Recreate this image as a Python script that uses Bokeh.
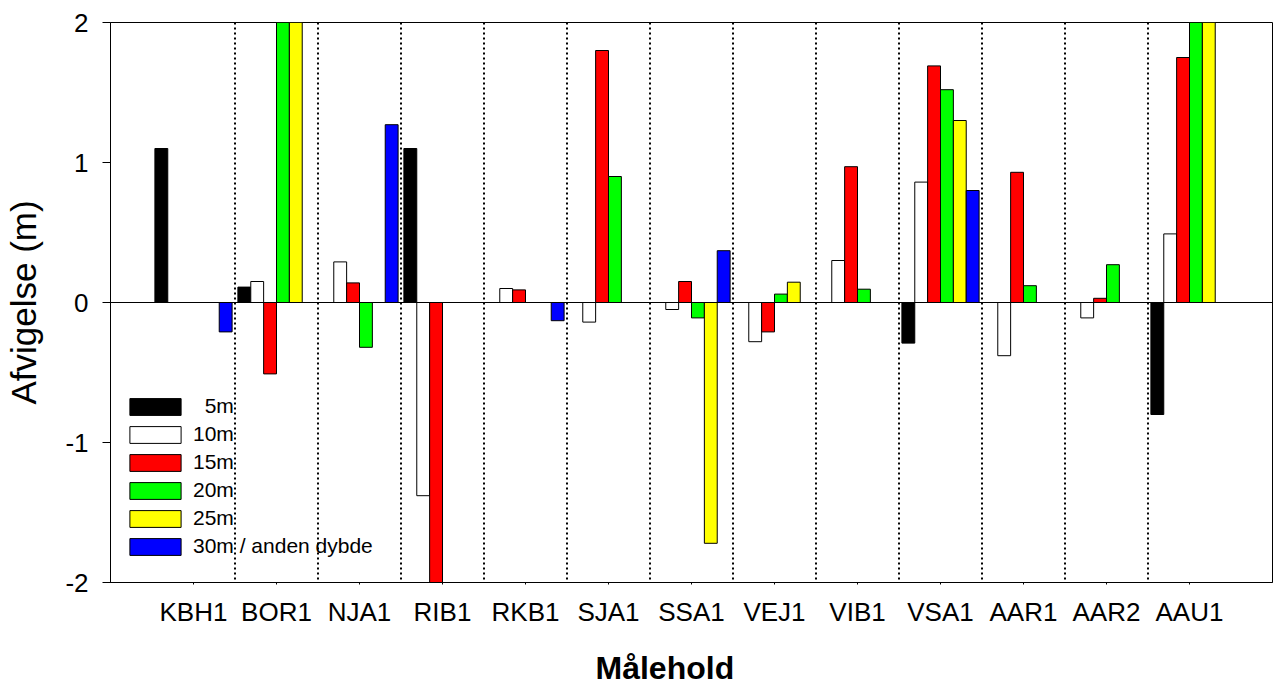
import math

from bokeh.embed import file_html
from bokeh.models import FixedTicker, Legend, LegendItem, LinearAxis, Range1d, Span, Title
from bokeh.plotting import figure
from bokeh.resources import INLINE

# Measuring stations (x categories)
stations = ["KBH1", "BOR1", "NJA1", "RIB1", "RKB1", "SJA1", "SSA1",
            "VEJ1", "VIB1", "VSA1", "AAR1", "AAR2", "AAU1"]

NA = float("nan")

# Deviation (m) per station at each depth; NaN = no measurement
dev_5m = [1.10, 0.11, NA, 1.10, NA, NA, NA, NA, NA, -0.29, NA, NA, -0.80]
dev_10m = [NA, 0.15, 0.29, -1.38, 0.10, -0.14, -0.05, -0.28, 0.30, 0.86, -0.38, -0.11, 0.49]
dev_15m = [NA, -0.51, 0.14, -2.00, 0.09, 1.80, 0.15, -0.21, 0.97, 1.69, 0.93, 0.03, 1.75]
dev_20m = [NA, 2.00, -0.32, NA, NA, 0.90, -0.11, 0.06, 0.095, 1.52, 0.12, 0.27, 2.00]
dev_25m = [NA, 2.00, NA, NA, NA, NA, -1.72, 0.145, NA, 1.30, NA, NA, 2.00]
dev_30m = [-0.21, NA, 1.27, NA, -0.13, NA, 0.37, NA, NA, 0.80, NA, NA, NA]

series_labels = ["\u20075m", "10m", "15m", "20m", "25m", "30m / anden dybde"]
series_values = [dev_5m, dev_10m, dev_15m, dev_20m, dev_25m, dev_30m]
series_colors = ["#000000", "#ffffff", "#ff0000", "#00ff00", "#ffff00", "#0000ff"]

y_ticks = [-2, -1, 0, 1, 2]

FONT = "Liberation Sans"
BAR_W = 0.155

p = figure(
    width=1273, height=686,
    output_backend="svg", toolbar_location=None,
    x_range=Range1d(0, 14), y_range=Range1d(-2, 2),
    min_border_left=110, min_border_right=1,
    min_border_top=22, min_border_bottom=104,
)
p.background_fill_color = "white"
p.border_fill_color = "white"
p.outline_line_color = "black"
p.outline_line_width = 1
p.xgrid.visible = False
p.ygrid.visible = False

# Group separators between stations
for k in range(1, len(stations)):
    p.add_layout(Span(location=k + 0.5, dimension="height", line_color="black",
                      line_width=2, line_dash="2 3"))

# Zero line
p.add_layout(Span(location=0, dimension="width", line_color="black", line_width=1))

# Grouped bars: six depth slots per station
n_series = len(series_values)
items = []
for j, (label, vals, color) in enumerate(zip(series_labels, series_values, series_colors)):
    offset = (j - (n_series - 1) / 2) * BAR_W
    xs = [i + 1 + offset for i, v in enumerate(vals) if not math.isnan(v)]
    tops = [v for v in vals if not math.isnan(v)]
    r = p.vbar(x=xs, top=tops, bottom=0, width=BAR_W,
               fill_color=color, line_color="black", line_width=1)
    items.append(LegendItem(label=label, renderers=[r]))

legend = Legend(
    items=items, location=(13, 24),
    padding=0, margin=0, spacing=4,
    glyph_width=64, glyph_height=21, label_height=21,
    label_standoff=6,
    label_text_font=FONT, label_text_font_size="21px", label_text_color="black",
    border_line_alpha=0, background_fill_alpha=0,
)
p.add_layout(legend)

# Y axis
p.yaxis.ticker = FixedTicker(ticks=y_ticks)
p.yaxis.major_label_overrides = {t: str(t) for t in y_ticks}
p.yaxis.minor_tick_line_color = None
p.yaxis.major_tick_out = 8
p.yaxis.major_tick_in = 0
p.yaxis.major_label_standoff = 14
p.yaxis.major_label_text_font = FONT
p.yaxis.major_label_text_font_size = "26px"
p.yaxis.major_label_text_color = "black"
p.yaxis.axis_line_color = "black"
p.yaxis.major_tick_line_color = "black"
p.yaxis.axis_label = "Afvigelse (m)"
p.yaxis.axis_label_text_font = FONT
p.yaxis.axis_label_text_font_size = "35px"
p.yaxis.axis_label_text_font_style = "normal"
p.yaxis.axis_label_text_color = "black"
p.yaxis.axis_label_standoff = 19

# X axis: station names at group centres
p.xaxis.ticker = FixedTicker(ticks=list(range(1, len(stations) + 1)))
p.xaxis.major_label_overrides = {i + 1: s for i, s in enumerate(stations)}
p.xaxis.minor_tick_line_color = None
p.xaxis.major_tick_out = 2
p.xaxis.major_tick_in = 0
p.xaxis.major_label_standoff = 12
p.xaxis.major_label_text_font = FONT
p.xaxis.major_label_text_font_size = "26px"
p.xaxis.major_label_text_color = "black"
p.xaxis.axis_line_color = "black"

# Invisible axis (one hidden tick, empty label) used as vertical spacing above the x title
spacer = LinearAxis(
    ticker=FixedTicker(ticks=[7]), major_label_overrides={7: ""},
    axis_line_color=None, major_tick_line_color=None, minor_tick_line_color=None,
    major_tick_out=18, major_tick_in=0, minor_tick_out=0, minor_tick_in=0,
    major_label_standoff=0, major_label_text_font_size="1px",
)
p.add_layout(spacer, "below")

p.add_layout(Title(
    text="Målehold", align="left", offset=485, standoff=0,
    vertical_align="bottom",
    text_font=FONT, text_font_size="32px", text_font_style="bold",
    text_color="black",
), "below")

open("out.html", "w").write(file_html(p, INLINE))
